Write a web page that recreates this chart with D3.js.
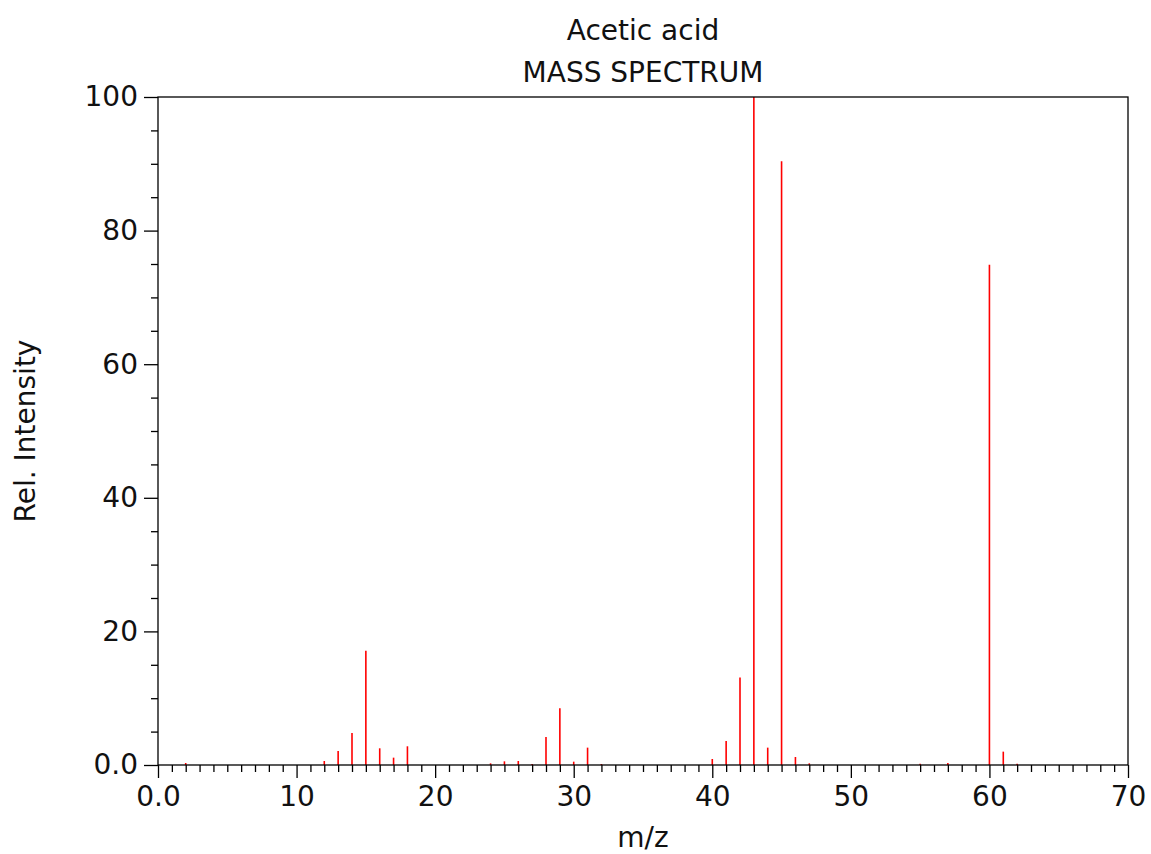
<!DOCTYPE html>
<html>
<head>
<meta charset="utf-8">
<script src="https://cdn.jsdelivr.net/npm/d3@7"></script>
<style>
  html, body { margin: 0; padding: 0; background: #fff; }
  svg { display: block; font-family: "DejaVu Sans", sans-serif; }
</style>
</head>
<body>
<svg id="chart" width="1151" height="854"></svg>
<script>
const titleLines = ["Acetic acid", "MASS SPECTRUM"];
const xLabel = "m/z";
const yLabel = "Rel. Intensity";

const mz = [2, 12, 13, 14, 15, 16, 17, 18, 24, 25, 26, 27, 28, 29, 30, 31, 32,
            40, 41, 42, 43, 44, 45, 46, 47, 55, 57, 60, 61, 62];
const intensity = [0.3, 0.6, 2.1, 4.8, 17.1, 2.5, 1.1, 2.8, 0.25, 0.55, 0.6, 0.15, 4.2, 8.5, 0.5, 2.6, 0.15,
                   0.9, 3.6, 13.1, 100, 2.6, 90.4, 1.2, 0.25, 0.2, 0.3, 74.9, 2.0, 0.2];

const xDomain = [0, 70];
const yDomain = [0, 100];
const xMajorTicks = [0, 10, 20, 30, 40, 50, 60, 70];
const xTickLabels = ["0.0", "10", "20", "30", "40", "50", "60", "70"];
const yMajorTicks = [0, 20, 40, 60, 80, 100];
const yTickLabels = ["0.0", "20", "40", "60", "80", "100"];
const xMinorStep = 1;
const yMinorStep = 5;

const W = 1151, H = 854;
const margin = { left: 158, right: 23, top: 97, bottom: 89 };
const iw = W - margin.left - margin.right;
const ih = H - margin.top - margin.bottom;

const svg = d3.select("#chart");
const x = d3.scaleLinear().domain(xDomain).range([margin.left, margin.left + iw]);
const y = d3.scaleLinear().domain(yDomain).range([margin.top + ih, margin.top]);

const fontSize = 28;

// Peaks
svg.append("g")
  .selectAll("line")
  .data(mz.map((m, i) => ({ m, v: intensity[i] })))
  .join("line")
  .attr("x1", d => x(d.m)).attr("x2", d => x(d.m))
  .attr("y1", y(0)).attr("y2", d => y(d.v))
  .attr("stroke", "#ff0000")
  .attr("stroke-width", 1.6);

// Minor ticks
const xMinor = d3.range(xDomain[0], xDomain[1] + 1e-9, xMinorStep).filter(v => !xMajorTicks.includes(v));
const yMinor = d3.range(yDomain[0], yDomain[1] + 1e-9, yMinorStep).filter(v => !yMajorTicks.includes(v));

const xAxisMinor = d3.axisBottom(x).tickValues(xMinor).tickSize(7).tickFormat("");
const xAxisMajor = d3.axisBottom(x).tickValues(xMajorTicks).tickSize(13).tickPadding(8)
  .tickFormat((d, i) => xTickLabels[i]);
const yAxisMinor = d3.axisLeft(y).tickValues(yMinor).tickSize(7).tickFormat("");
const yAxisMajor = d3.axisLeft(y).tickValues(yMajorTicks).tickSize(14).tickPadding(6)
  .tickFormat((d, i) => yTickLabels[i]);

function styleAxis(g) {
  g.select(".domain").remove();
  g.selectAll(".tick line").attr("stroke", "#000").attr("stroke-width", 1.3);
  g.selectAll(".tick text").attr("fill", "#111").style("font-size", fontSize + "px")
    .style("font-family", "'DejaVu Sans', sans-serif");
}

svg.append("g").attr("transform", `translate(0,${y(0)})`).call(xAxisMinor).call(styleAxis);
svg.append("g").attr("transform", `translate(0,${y(0)})`).call(xAxisMajor).call(styleAxis);
svg.append("g").attr("transform", `translate(${x(0)},0)`).call(yAxisMinor).call(styleAxis);
svg.append("g").attr("transform", `translate(${x(0)},0)`).call(yAxisMajor).call(styleAxis);

// Frame
svg.append("rect")
  .attr("x", x(xDomain[0])).attr("y", y(yDomain[1]))
  .attr("width", x(xDomain[1]) - x(xDomain[0]))
  .attr("height", y(yDomain[0]) - y(yDomain[1]))
  .attr("fill", "none").attr("stroke", "#000").attr("stroke-width", 1.3);

// Titles
const cx = margin.left + iw / 2;
svg.append("text").attr("x", cx).attr("y", 40).attr("text-anchor", "middle")
  .style("font-size", fontSize + "px").attr("fill", "#111").text(titleLines[0]);
svg.append("text").attr("x", cx).attr("y", 82).attr("text-anchor", "middle")
  .style("font-size", fontSize + "px").attr("fill", "#111").text(titleLines[1]);

// Axis labels
svg.append("text").attr("x", cx).attr("y", 847).attr("text-anchor", "middle")
  .style("font-size", fontSize + "px").attr("fill", "#111").text(xLabel);
svg.append("text")
  .attr("transform", `translate(35,${margin.top + ih / 2}) rotate(-90)`)
  .attr("text-anchor", "middle")
  .style("font-size", fontSize + "px").attr("fill", "#111").text(yLabel);
</script>
</body>
</html>
